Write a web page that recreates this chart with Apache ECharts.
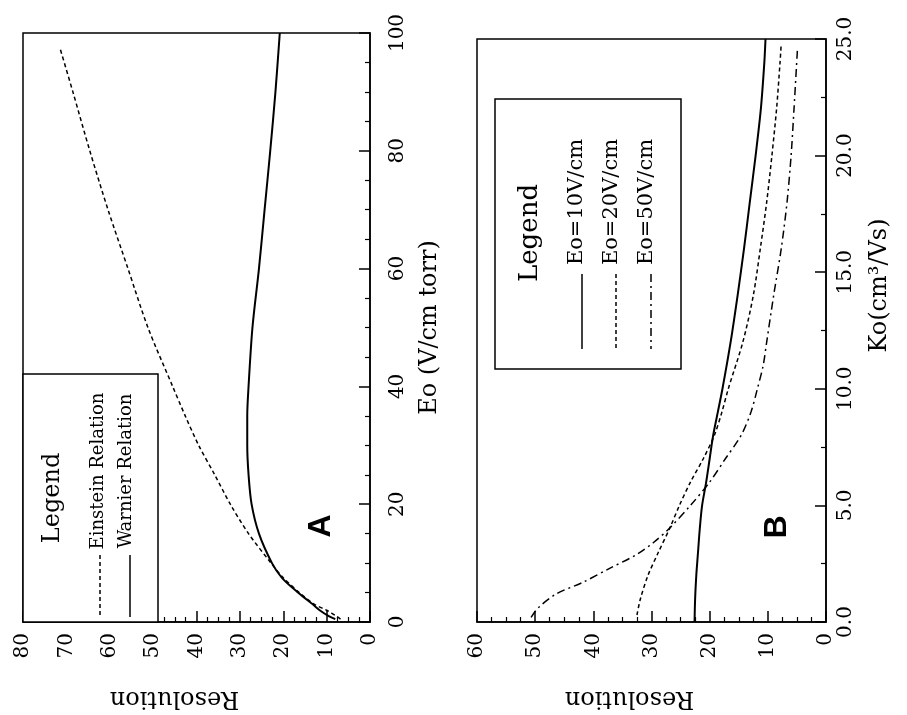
<!DOCTYPE html>
<html>
<head>
<meta charset="utf-8">
<script src="https://cdn.jsdelivr.net/npm/echarts@6/dist/echarts.min.js"></script>
<style>
  html, body { margin: 0; padding: 0; background: #fff; }
  #main { width: 907px; height: 715px; }
</style>
</head>
<body>
<div id="main"></div>
<script>
// ---------- Panel A : Resolution vs Eo (V/cm torr) ----------
const eoEinstein  = [0.5, 1, 2, 3, 5, 7.5, 10, 15, 20, 25, 30, 35, 40, 50, 60, 70, 80, 90, 97.5];
const resEinstein = [6.8, 7.8, 10.0, 12.8, 16.3, 20.0, 22.8, 28.0, 32.2, 35.8, 39.5, 42.6, 45.5, 51.2, 55.8, 60.4, 64.6, 68.5, 71.5];
const eoWarnier   = [0.5, 1, 2, 3, 5, 7.5, 10, 15, 20, 25, 30, 35, 40, 50, 60, 70, 80, 90, 100];
const resWarnier  = [8.0, 9.5, 11.6, 13.2, 16.6, 20.3, 22.6, 25.6, 27.3, 28.0, 28.3, 28.3, 28.0, 27.1, 25.6, 24.3, 23.0, 21.8, 20.8];

// ---------- Panel B : Resolution vs Ko (cm3/Vs) ----------
const koE10  = [0, 1, 2, 3, 4, 5, 6, 7, 8, 9, 10, 12, 14, 16, 18, 20, 22, 24, 25];
const resE10 = [22.6, 22.5, 22.3, 22.0, 21.7, 21.3, 20.6, 20.0, 19.4, 18.6, 17.8, 16.4, 15.2, 14.1, 13.1, 12.1, 11.2, 10.6, 10.4];
const koE20  = [0.3, 1, 2, 3, 4, 5, 6, 7, 8, 9, 10, 12, 14, 16, 18, 20, 22, 24, 24.8];
const resE20 = [32.5, 31.9, 30.6, 28.8, 26.9, 25.2, 23.3, 21.1, 19.2, 17.9, 16.8, 14.3, 12.5, 11.3, 10.2, 9.3, 8.5, 7.9, 7.7];
const koE50  = [0.2, 0.6, 1.2, 1.7, 2.3, 2.9, 3.4, 4, 5, 6, 7, 8, 9, 10, 11, 12, 14, 16, 18, 20, 22, 24.6];
const resE50 = [50.7, 49.5, 46.4, 41.8, 37.2, 32.5, 29.7, 27.0, 23.3, 20.0, 17.3, 14.6, 12.9, 11.8, 10.8, 10.2, 9.0, 7.7, 6.7, 6.0, 5.5, 4.9];

const seriesNamesA = ['Einstein Relation', 'Warnier Relation'];
const seriesNamesB = ['Eo=10V/cm', 'Eo=20V/cm', 'Eo=50V/cm'];
const axisNames = { res: 'Resolution', eo: 'Eo (V/cm torr)', ko: 'Ko(cm\u00B3/Vs)' };

const FONT = 'DejaVu Serif';
const BLACK = '#000';

function pairs(xs, ys) { return xs.map((x, i) => [x, ys[i]]); }

function resAxis(gridIndex, max) {
  return {
    type: 'value', gridIndex, min: 0, max, interval: 10, inverse: true, position: 'bottom',
    axisLine: { show: true, onZero: false, lineStyle: { color: BLACK, width: 1.5 } },
    axisTick: { show: true, inside: true, length: 11, lineStyle: { color: BLACK, width: 1.5 } },
    minorTick: { show: true, splitNumber: 4, length: 5, lineStyle: { color: BLACK, width: 1.2 } },
    splitLine: { show: false }, minorSplitLine: { show: false },
    axisLabel: { rotate: 90, margin: 11, fontSize: 20, fontFamily: FONT, color: BLACK,
                 showMinLabel: true, showMaxLabel: true },
    name: axisNames.res, nameLocation: 'middle', nameGap: 64, nameRotate: 180,
    nameTextStyle: { fontSize: 24, fontFamily: FONT, color: BLACK, padding: [0, 0, 0, 44] }
  };
}

function sideAxis(gridIndex, max, interval, minorSplit, margin, name, nameGap, namePad, fmt) {
  return {
    type: 'value', gridIndex, min: 0, max, interval, position: 'right',
    axisLine: { show: true, onZero: false, lineStyle: { color: BLACK, width: 1.5 } },
    axisTick: { show: true, inside: true, length: 11, lineStyle: { color: BLACK, width: 1.5 } },
    minorTick: { show: true, splitNumber: minorSplit, length: 5, lineStyle: { color: BLACK, width: 1.2 } },
    splitLine: { show: false }, minorSplitLine: { show: false },
    axisLabel: { rotate: 90, margin, fontSize: 20, fontFamily: FONT, color: BLACK,
                 showMinLabel: true, showMaxLabel: true, formatter: fmt },
    name, nameLocation: 'middle', nameGap, nameRotate: 90,
    nameTextStyle: { fontSize: 24, fontFamily: FONT, color: BLACK, padding: [0, 0, 0, namePad] }
  };
}

function lineSeries(name, xi, data, dash, width) {
  return {
    name, type: 'line', xAxisIndex: xi, yAxisIndex: xi, data,
    showSymbol: false, smooth: 0.3, silent: true,
    lineStyle: { color: BLACK, width: width || 1.5, type: dash || 'solid' },
    z: 3
  };
}

function rotText(x, y, text, size, weight, family) {
  return {
    type: 'text', x, y, rotation: Math.PI / 2, z: 110,
    style: {
      text, fill: BLACK,
      font: (weight || 'normal') + ' ' + size + 'px "' + (family || FONT) + '"',
      align: 'center', verticalAlign: 'middle',
      textAlign: 'center', textVerticalAlign: 'middle'
    }
  };
}
function vLine(x, y1, y2, dash) {
  return {
    type: 'line', z: 110,
    shape: { x1: x, y1, x2: x, y2 },
    style: { stroke: BLACK, lineWidth: 1.5, lineDash: dash || null }
  };
}
function box(x, y, w, h) {
  return {
    type: 'rect', z: 105,
    shape: { x, y, width: w, height: h },
    style: { fill: '#fff', stroke: BLACK, lineWidth: 1.5 }
  };
}

const dashA = [4, 3];
const dashDot = [8, 4, 2, 4];

const option = {
  backgroundColor: '#fff',
  animation: false,
  grid: [
    { left: 23, top: 33, width: 347, height: 589, show: true, borderColor: BLACK, borderWidth: 1.5,
      backgroundColor: '#fff', containLabel: false, outerBoundsMode: 'none' },
    { left: 477, top: 39, width: 349, height: 583, show: true, borderColor: BLACK, borderWidth: 1.5,
      backgroundColor: '#fff', containLabel: false, outerBoundsMode: 'none' }
  ],
  xAxis: [ resAxis(0, 80), resAxis(1, 60) ],
  yAxis: [
    sideAxis(0, 100, 20, 4, 18, axisNames.eo, 48, 0, v => String(v)),
    sideAxis(1, 25, 5, 2, 10, axisNames.ko, 42, 90, v => v.toFixed(1))
  ],
  series: [
    lineSeries(seriesNamesA[0], 0, pairs(resEinstein, eoEinstein), dashA, 1.5),
    lineSeries(seriesNamesA[1], 0, pairs(resWarnier, eoWarnier), 'solid', 2),
    lineSeries(seriesNamesB[0], 1, pairs(resE10, koE10), 'solid', 2),
    lineSeries(seriesNamesB[1], 1, pairs(resE20, koE20), dashA, 1.5),
    lineSeries(seriesNamesB[2], 1, pairs(resE50, koE50), dashDot, 1.5)
  ],
  graphic: { elements: [
    // Legend A
    box(23, 374, 135, 248),
    rotText(53, 498, 'Legend', 24),
    rotText(98, 471, seriesNamesA[0], 18),
    vLine(100, 555, 617, dashA),
    rotText(126, 471, seriesNamesA[1], 18),
    vLine(130, 555, 617, null),
    // Legend B
    box(495, 99, 186, 270),
    rotText(530, 233, 'Legend', 26),
    rotText(577, 202, seriesNamesB[0], 21),
    vLine(582, 274, 349, null),
    rotText(612, 202, seriesNamesB[1], 21),
    vLine(616, 274, 349, dashA),
    rotText(647, 202, seriesNamesB[2], 21),
    vLine(651, 274, 349, dashDot),
    // Panel letters
    rotText(321, 526, 'A', 32, 'bold', 'Liberation Sans'),
    rotText(777, 527, 'B', 32, 'bold', 'Liberation Sans')
  ] }
};

const chart = echarts.init(document.getElementById('main'), null, { renderer: 'canvas' });
chart.setOption(option);
</script>
</body>
</html>
